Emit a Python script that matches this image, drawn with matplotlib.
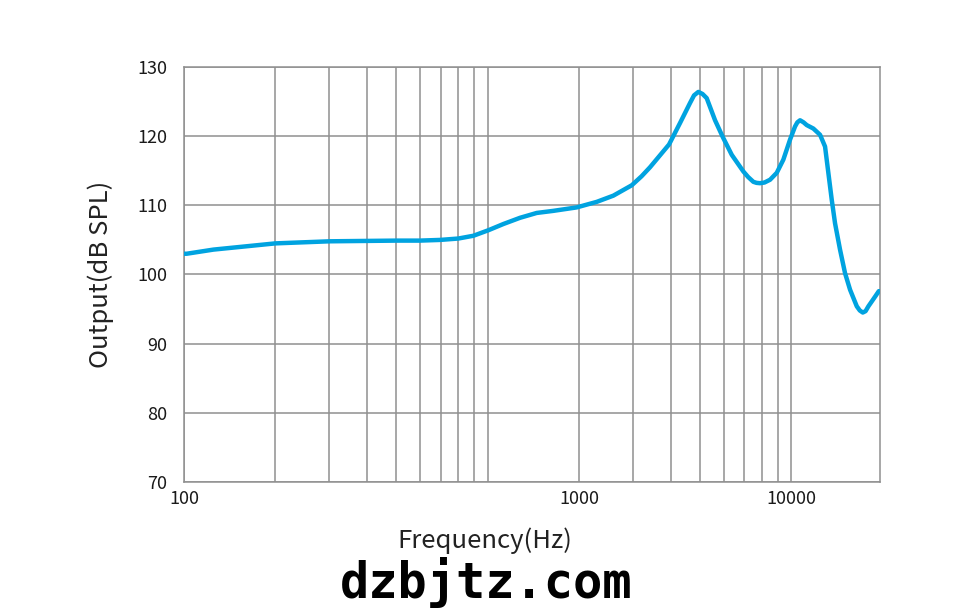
import numpy as np
import matplotlib
matplotlib.use('Agg')
import matplotlib.pyplot as plt

plt.rcParams['font.family'] = ['Noto Sans CJK SC', 'DejaVu Sans']

# frequency response (Hz, dB SPL)
freq = [100, 102, 125, 200, 302, 502, 598, 697, 800, 897, 1005, 1126, 1278, 1450,
        1644, 1963, 2285, 2592, 2980, 3210, 3422, 3954, 4297, 4636, 4779, 4938,
        5096, 5260, 5604, 5939, 6361, 6944, 7200, 7492, 7674, 7880, 8153, 8503,
        8946, 9404, 9895, 10277, 10460, 10674, 10960, 11231, 11808, 12423, 12902,
        13229, 13574, 13918, 14454, 15013, 15596, 16412, 16790, 17177, 17540,
        17922, 18856, 19400]
spl = [103.0, 103.0, 103.6, 104.5, 104.8, 104.9, 104.9, 105.0, 105.2, 105.6, 106.4,
       107.3, 108.2, 108.9, 109.2, 109.7, 110.5, 111.4, 112.9, 114.2, 115.5, 118.8,
       121.9, 124.8, 125.9, 126.4, 126.1, 125.5, 122.3, 119.9, 117.3, 114.9, 114.1,
       113.4, 113.25, 113.2, 113.3, 113.7, 114.7, 116.6, 119.5, 121.4, 122.0, 122.3,
       122.0, 121.6, 121.1, 120.2, 118.5, 114.7, 110.8, 107.4, 103.6, 100.2, 97.8,
       95.4, 94.8, 94.5, 94.7, 95.4, 96.8, 97.6]

# tick labels sit where the original drawing put them
xtick_pos = [100, 2000, 10000]
xtick_labels = ['100', '1000', '10000']
yticks = [70, 80, 90, 100, 110, 120, 130]

fig = plt.figure(figsize=(9.76, 6.13), dpi=100)
ax = fig.add_axes([184/976, 1-482/613, 696/976, 415/613])

grid_c = '#8f8f8f'
vlines = [m * d for d in (100, 1000) for m in range(1, 10)] + [10000]
for v in vlines:
    ax.axvline(v, color=grid_c, lw=1.1, zorder=1)
for h in yticks:
    ax.axhline(h, color=grid_c, lw=1.1, zorder=1)

ax.plot(freq, spl, color='#00a3e0', lw=3.2, solid_capstyle='round',
        solid_joinstyle='round', zorder=3)

ax.set_xscale('log')
ax.set_xlim(100, 19570)
ax.set_ylim(70, 130)
ax.set_xticks(xtick_pos)
ax.set_xticklabels(xtick_labels)
ax.xaxis.set_minor_locator(matplotlib.ticker.NullLocator())
ax.set_yticks(yticks)
ax.tick_params(axis='both', length=0, labelsize=13, colors='#1a1a1a')
ax.tick_params(axis='x', pad=6)
ax.tick_params(axis='y', pad=12)
for s in ax.spines.values():
    s.set_color(grid_c)
    s.set_linewidth(1.1)

ax.set_xlabel('Frequency(Hz)', fontsize=18.5, color='#222222')
ax.xaxis.set_label_coords(0.4325, -0.11)
ax.set_ylabel('Output(dB SPL)', fontsize=18.5, color='#222222')
ax.yaxis.set_label_coords(-0.1, 0.5)

fig.text(486/976, 1-583/613, 'dzbjtz.com', fontsize=35, fontweight='bold',
         family='DejaVu Sans Mono', ha='center', va='center', color='black')

fig.savefig('out.png', dpi=100)
